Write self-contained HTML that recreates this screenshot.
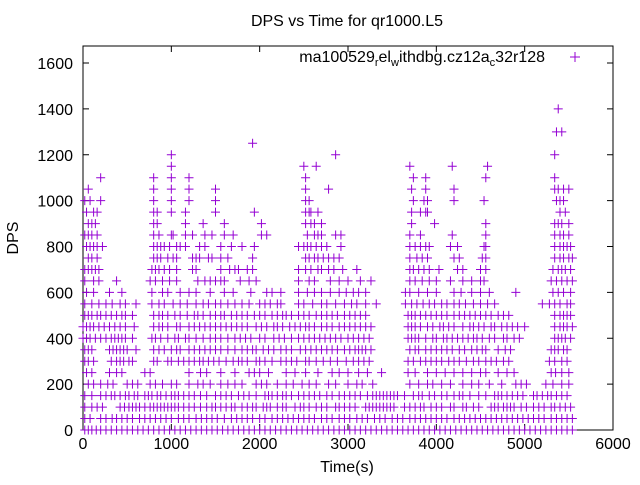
<!DOCTYPE html>
<html><head><meta charset="utf-8"><style>
html,body{margin:0;padding:0;background:#fff;}
svg text{font-family:"Liberation Sans",sans-serif;font-size:16px;fill:#000;}
</style></head><body>
<svg id="chart" width="640" height="480" viewBox="0 0 640 480" xmlns="http://www.w3.org/2000/svg">
<text x="347" y="26" text-anchor="middle">DPS vs Time for qr1000.L5</text>
<rect x="83" y="46" width="530" height="384" fill="none" stroke="#000" stroke-width="1"/>
<g id="axes"></g>
<g id="marks"></g>
<text x="545" y="62" text-anchor="end">ma100529<tspan font-size="11" dy="4">r</tspan><tspan dy="-4">el</tspan><tspan font-size="11" dy="4">w</tspan><tspan dy="-4">ithdbg.cz12a</tspan><tspan font-size="11" dy="4">c</tspan><tspan dy="-4">32r128</tspan></text>
<g stroke="#9400d3" stroke-width="1"><line x1="570" y1="57" x2="580" y2="57"/><line x1="575" y1="52" x2="575" y2="62"/></g>
<text x="347" y="472" text-anchor="middle">Time(s)</text>
<text transform="translate(18,238) rotate(-90)" text-anchor="middle">DPS</text>
</svg>
<script>
const xTicks = [0,1000,2000,3000,4000,5000,6000];
const yTicks = [0,200,400,600,800,1000,1200,1400,1600];
const dpsLevels = [0,50,100,150,200,250,300,350,400,450,500,550,600,650,700,750,800,850,900,950,1000,1050,1100,1150,1200,1250,1300,1400];
const timesAt0 = [20,60,100,150,200,260,320,380,440,500,560,620,680,740,800,860,920,980,1040,1100,1160,1220,1280,1340,1400,1460,1520,1580,1640,1700,1760,1820,1880,1940,2000,2060,2120,2180,2240,2300,2360,2420,2480,2540,2600,2660,2720,2780,2840,2900,2960,3020,3080,3140,3200,3260,3320,3380,3440,3500,3560,3620,3680,3740,3800,3860,3920,3980,4040,4100,4160,4220,4280,4340,4400,4460,4520,4580,4640,4700,4760,4820,4880,4940,5000,5060,5120,5180,5240,5300,5360,5420,5480,5540];
const timesAt50 = [20,80,200,260,330,380,440,500,560,640,700,760,820,880,940,1000,1080,1140,1200,1280,1340,1400,1460,1520,1600,1680,1740,1800,1860,1920,2000,2060,2140,2200,2260,2320,2380,2440,2500,2560,2620,2700,2760,2820,2900,2960,3020,3100,3160,3220,3300,3360,3420,3500,3560,3620,3700,3760,3820,3880,3940,4000,4060,4120,4200,4260,4320,4380,4440,4500,4560,4620,4680,4740,4800,4860,4920,4980,5040,5100,5160,5220,5300,5360,5420,5480,5540];
const timesAt100 = [20,100,160,220,420,470,520,560,600,640,700,760,800,840,880,920,960,1000,1040,1080,1140,1200,1260,1330,1400,1460,1500,1560,1620,1680,1720,1800,1860,1920,1960,2040,2080,2120,2200,2260,2300,2400,2460,2500,2560,2640,2700,2760,2860,2900,2960,3020,3080,3200,3240,3280,3320,3360,3400,3440,3480,3520,3640,3700,3760,3820,3860,3940,4000,4060,4160,4200,4300,4340,4420,4480,4620,4660,4700,4760,4800,4840,4880,4960,5020,5100,5160,5220,5300,5340,5400,5460,5520];
const timesAt150 = [20,100,200,260,320,360,420,480,520,580,620,700,740,780,840,880,940,1000,1040,1080,1140,1200,1260,1330,1400,1500,1560,1620,1680,1760,1820,1880,1960,2060,2100,2140,2200,2260,2300,2360,2440,2500,2560,2620,2680,2760,2820,2900,2960,3020,3080,3140,3220,3280,3320,3360,3400,3440,3480,3520,3560,3640,3740,3800,3840,3920,3980,4060,4120,4200,4260,4300,4380,4480,4560,4660,4700,4740,4800,4860,4920,4980,5100,5140,5200,5260,5300,5360,5420,5480];
const timesAt200 = [60,120,200,280,340,500,560,620,760,820,900,1000,1060,1200,1300,1360,1440,1560,1640,1720,1800,1960,2020,2080,2200,2300,2380,2480,2560,2640,2780,2860,3000,3100,3160,3280,3700,3800,3900,3960,4060,4160,4300,4400,4480,4600,4740,4900,4960,5020,5240,5320,5420,5500];
const timesAt250 = [40,100,300,380,440,700,760,1200,1330,1400,1560,1720,1880,1940,2000,2100,2300,2400,2520,2660,2820,2900,3000,3120,3220,3380,3680,3760,3900,4000,4100,4200,4300,4400,4500,4560,4700,4800,4880,5300,5350,5420,5500];
const timesAt300 = [20,60,120,320,380,420,460,520,560,800,840,960,1000,1080,1140,1200,1260,1320,1360,1420,1480,1540,1620,1700,1760,1800,1860,1960,2000,2060,2140,2240,2300,2360,2420,2520,2560,2640,2720,2800,2880,2980,3060,3120,3180,3240,3680,3740,3820,3880,3940,4000,4060,4140,4200,4260,4340,4420,4480,4560,4620,4680,4760,4820,5280,5340,5420,5480];
const timesAt350 = [20,60,100,300,340,380,420,460,500,600,800,860,920,1000,1060,1100,1200,1260,1320,1380,1440,1500,1560,1640,1720,1800,1860,1920,1960,2040,2100,2160,2240,2300,2360,2460,2520,2580,2640,2700,2760,2820,2880,2960,3020,3080,3120,3160,3200,3260,3700,3760,3800,3880,3940,4000,4060,4120,4180,4260,4320,4400,4460,4520,4560,4700,4780,4840,5300,5340,5380,5440,5480];
const timesAt400 = [0,40,80,140,200,260,320,360,400,440,480,560,780,820,880,960,1040,1080,1160,1200,1280,1360,1440,1500,1560,1640,1720,1780,1840,1900,2000,2060,2160,2220,2280,2360,2440,2500,2560,2620,2680,2740,2800,2860,2920,3000,3060,3120,3180,3240,3680,3720,3760,3800,3880,3960,4000,4080,4120,4180,4240,4300,4360,4420,4460,4520,4600,4660,4760,4800,4880,4940,5340,5380,5420,5460,5520];
const timesAt450 = [0,40,80,120,180,240,300,360,420,480,580,800,860,900,960,1060,1100,1200,1260,1320,1380,1440,1500,1560,1620,1680,1740,1800,1860,1960,2020,2080,2160,2200,2260,2340,2400,2460,2520,2560,2620,2700,2760,2820,2900,2960,3020,3080,3140,3200,3260,3680,3720,3760,3820,3900,3960,4040,4080,4140,4200,4300,4380,4420,4480,4540,4620,4660,4740,4800,4860,4920,5000,5340,5400,5440,5480,5540];
const timesAt500 = [20,60,100,160,200,260,320,380,440,480,560,800,860,900,960,1040,1100,1180,1260,1300,1360,1440,1500,1560,1600,1680,1740,1800,1860,1940,2000,2060,2140,2200,2260,2300,2360,2440,2500,2560,2640,2700,2760,2820,2880,2960,3020,3080,3140,3200,3680,3720,3760,3820,3880,3940,4000,4060,4120,4200,4260,4320,4380,4440,4500,4560,4620,4700,4760,4820,5340,5400,5440,5480,5520];
const timesAt550 = [20,100,180,260,330,420,480,600,780,860,920,1020,1100,1180,1280,1360,1420,1500,1560,1640,1720,1800,1880,2000,2060,2120,2200,2240,2440,2500,2600,2700,2760,2860,2960,3040,3100,3200,3320,3650,3720,3780,3850,3920,3980,4060,4120,4200,4260,4330,4420,4500,4580,4660,5200,5280,5340,5400,5480,5520];
const timesAt600 = [40,120,300,440,780,900,960,1100,1200,1280,1440,1600,1700,1900,2080,2140,2240,2440,2540,2620,2700,2800,2900,2980,3060,3120,3200,3650,3700,3800,3900,4000,4200,4280,4400,4500,4600,4900,5320,5380,5440,5520];
const timesAt650 = [20,120,180,380,760,820,900,980,1060,1300,1380,1440,1500,1560,1600,1780,1880,1960,2440,2560,2620,2800,2900,3000,3140,3260,3700,3760,3840,3920,4000,4160,4300,4400,4500,4540,5300,5360,5420,5480,5540];
const timesAt700 = [20,60,100,140,180,780,820,860,920,980,1060,1240,1280,1560,1660,1720,1760,1860,1920,2440,2520,2580,2660,2700,2780,2840,2940,3100,3700,3740,3800,3860,3920,4030,4240,4300,4500,4560,5320,5380,5420,5460,5520];
const timesAt750 = [60,100,160,800,840,880,960,1020,1060,1240,1280,1320,1420,1460,1560,1640,1920,2520,2560,2620,2660,2720,2780,2840,2900,3700,3780,3840,3900,4200,4260,4520,4560,5340,5400,5440,5500,5540];
const timesAt800 = [40,80,120,160,220,800,840,880,920,980,1060,1100,1160,1320,1380,1560,1680,1800,1940,2440,2500,2540,2580,2640,2700,2760,2920,3700,3760,3820,3880,3920,4160,4240,4540,4560,5340,5400,5440,5480,5520];
const timesAt850 = [20,60,100,160,800,860,1000,1020,1160,1240,1380,1460,1600,1700,2020,2080,2540,2620,2660,2700,2860,2920,3700,3820,4180,4560,5340,5400,5440,5500];
const timesAt900 = [60,100,140,800,840,1160,1360,1600,2020,2520,2580,2620,2700,3720,3980,4560,5340,5380,5420,5500];
const timesAt950 = [40,120,160,800,840,1000,1160,1500,1940,2520,2560,2580,2660,3720,3820,3880,3900,5400,5460];
const timesAt1000 = [20,80,200,800,1000,1200,1500,2520,2560,3740,3860,3900,4200,4540,5360,5400,5440];
const timesAt1050 = [60,800,1000,1200,1500,2520,2780,3720,3880,4200,5340,5380,5440,5500];
const timesAt1100 = [200,800,1000,1200,2520,3740,3880,4560,5340];
const timesAt1150 = [1000,2500,2640,3700,4180,4580];
const timesAt1200 = [1000,2860,5340];
const timesAt1250 = [1920];
const timesAt1300 = [5360,5420];
const timesAt1400 = [5380];
const timesByLevel = [timesAt0,timesAt50,timesAt100,timesAt150,timesAt200,timesAt250,timesAt300,timesAt350,timesAt400,timesAt450,timesAt500,timesAt550,timesAt600,timesAt650,timesAt700,timesAt750,timesAt800,timesAt850,timesAt900,timesAt950,timesAt1000,timesAt1050,timesAt1100,timesAt1150,timesAt1200,timesAt1250,timesAt1300,timesAt1400];

const NS = "http://www.w3.org/2000/svg";
const X0 = 83, X1 = 613, Y0 = 430, YTOP = 46;
function sx(t){ return X0 + (t - 0) / 6000 * (X1 - X0); }
function sy(v){ return Y0 - v * (430 - 63) / 1600; }

const axes = document.getElementById('axes');
xTicks.forEach(function(t){
  const x = sx(t);
  const a = document.createElementNS(NS,'line');
  a.setAttribute('x1',x);a.setAttribute('x2',x);a.setAttribute('y1',Y0);a.setAttribute('y2',Y0-6);a.setAttribute('stroke','#000');
  
  
  axes.appendChild(a);
  const b = document.createElementNS(NS,'line');
  b.setAttribute('x1',x);b.setAttribute('x2',x);b.setAttribute('y1',YTOP);b.setAttribute('y2',YTOP+6);b.setAttribute('stroke','#000');
  
  
  axes.appendChild(b);
  const l = document.createElementNS(NS,'text');
  l.setAttribute('x',x);l.setAttribute('y',449);l.setAttribute('text-anchor','middle');
  l.textContent = t;
  
  
  axes.appendChild(l);
});
yTicks.forEach(function(v){
  const y = sy(v);
  const a = document.createElementNS(NS,'line');
  a.setAttribute('x1',X0);a.setAttribute('x2',X0+6);a.setAttribute('y1',y);a.setAttribute('y2',y);a.setAttribute('stroke','#000');
  
  
  axes.appendChild(a);
  const b = document.createElementNS(NS,'line');
  b.setAttribute('x1',X1);b.setAttribute('x2',X1-6);b.setAttribute('y1',y);b.setAttribute('y2',y);b.setAttribute('stroke','#000');
  
  
  axes.appendChild(b);
  const l = document.createElementNS(NS,'text');
  l.setAttribute('x',73);l.setAttribute('y',y+6);l.setAttribute('text-anchor','end');
  l.textContent = v;
  
  
  axes.appendChild(l);
});

const marks = document.getElementById('marks');
let d = '';
dpsLevels.forEach(function(v, i){
  const y = sy(v);
  timesByLevel[i].forEach(function(t){
    const x = sx(t);
    d += 'M' + (x-4.5) + ' ' + y + 'h9M' + x + ' ' + (y-4.5) + 'v9';
  });
});
const p = document.createElementNS(NS,'path');
p.setAttribute('d', d);
p.setAttribute('stroke','#9400d3');
p.setAttribute('stroke-width','1');
p.setAttribute('fill','none');


marks.appendChild(p);
</script>
</body></html>
